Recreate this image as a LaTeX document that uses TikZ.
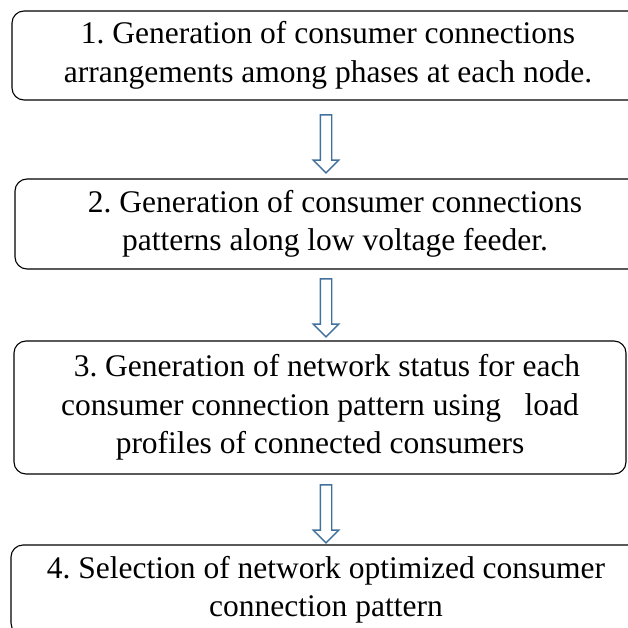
\documentclass[tikz,border=0pt]{standalone}
\usepackage{fontspec}
\setmainfont{Liberation Serif}
\usepackage{xcolor}
\usetikzlibrary{shapes.arrows,positioning}

\definecolor{arrowblue}{HTML}{41719C}
\frenchspacing

\begin{document}
\begin{tikzpicture}[x=1pt,y=-1pt]
  \tikzstyle{every node}=[font=\fontsize{31.5}{38.5}\selectfont]
  \tikzstyle{stagebox}=[draw,line width=1.1pt,rounded corners=12pt,align=center,inner sep=0pt]
  \tikzstyle{flowarrow}=[single arrow,draw=arrowblue,line width=1.4pt,fill=white,
    minimum width=25pt,minimum height=58pt,single arrow head extend=7pt,
    single arrow head indent=0pt,inner sep=5pt,shape border rotate=270]

  \useasboundingbox (0,0) rectangle (628,628);

  % the four stages
  \node [stagebox,minimum width=632pt,minimum height=89pt] (stage1) at (328,55.5)
    {1. Generation of consumer connections\\arrangements among phases at each node.};
  \node [stagebox,minimum width=640pt,minimum height=90pt] (stage2) at (335,224)
    {2. Generation of consumer connections\\patterns along low voltage feeder.};
  \node [stagebox,minimum width=612pt,minimum height=133pt] (stage3) at (320,407.5)
    {\hspace*{14pt}3. Generation of network status for each\\consumer connection pattern using \ \ load\\profiles of connected consumers};
  \node [stagebox,minimum width=630pt,minimum height=90pt] (stage4) at (326,590)
    {4. Selection of network optimized consumer\\connection pattern};

  % arrows between stages
  \node [flowarrow] (arrow1) at (326,141) {};
  \node [flowarrow] (arrow2) at (326,305) {};
  \node [flowarrow] (arrow3) at (326,511) {};
\end{tikzpicture}
\end{document}
